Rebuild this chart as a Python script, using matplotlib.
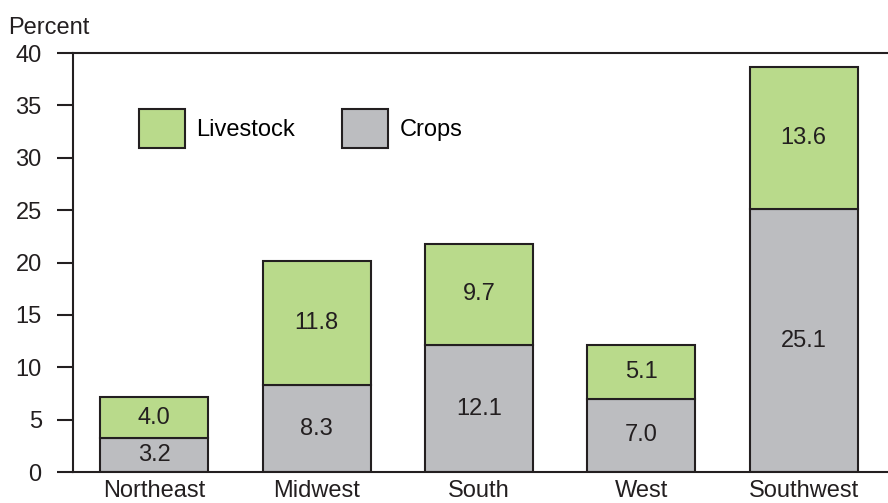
import numpy as np
import matplotlib.pyplot as plt

plt.rcParams['font.family'] = ['Liberation Sans', 'DejaVu Sans']

regions   = ['Northeast', 'Midwest', 'South', 'West', 'Southwest']
crops     = [3.2, 8.3, 12.1, 7.0, 25.1]
livestock = [4.0, 11.8, 9.7, 5.1, 13.6]

green = '#b9da8b'
gray  = '#bcbdc0'
edge  = '#231f20'
fs = 17

fig = plt.figure(figsize=(8.88, 5.03), dpi=100)
ax = fig.add_axes([0.0822, 0.0616, 0.9178, 0.833])

x = np.arange(len(regions))
b1 = ax.bar(x, crops, width=0.665, color=gray, edgecolor=edge, linewidth=1.5, label='Crops')
b2 = ax.bar(x, livestock, width=0.665, bottom=crops, color=green, edgecolor=edge, linewidth=1.5, label='Livestock')

for i in range(len(regions)):
    ax.text(x[i], crops[i] / 2, f'{crops[i]:.1f}', ha='center', va='center', fontsize=fs, color=edge)
    ax.text(x[i], crops[i] + livestock[i] / 2, f'{livestock[i]:.1f}', ha='center', va='center', fontsize=fs, color=edge)

ax.set_xlim(-0.5, 4.52)
ax.set_ylim(0, 40)
ax.set_yticks(range(0, 41, 5))
ax.set_xticks(x)
ax.set_xticklabels(regions)
ax.tick_params(axis='y', direction='out', length=11.5, width=1.5, labelsize=fs, colors=edge, pad=11)
ax.tick_params(axis='x', length=0, labelsize=fs, colors=edge, pad=6)

for s in ['left', 'bottom', 'top']:
    ax.spines[s].set_linewidth(1.5)
    ax.spines[s].set_color(edge)
ax.spines['right'].set_visible(False)

fig.text(8 / 888, 1 - 34 / 503, 'Percent', fontsize=fs, color=edge, ha='left', va='baseline')

leg = ax.legend(handles=[b2, b1], loc='upper left', bbox_to_anchor=(0.081, 0.866), ncol=2,
                frameon=False, fontsize=fs, handlelength=1.95, handleheight=2.15,
                columnspacing=2.0, handletextpad=0.47, borderpad=0, borderaxespad=0)

fig.savefig('out.png', dpi=100)
